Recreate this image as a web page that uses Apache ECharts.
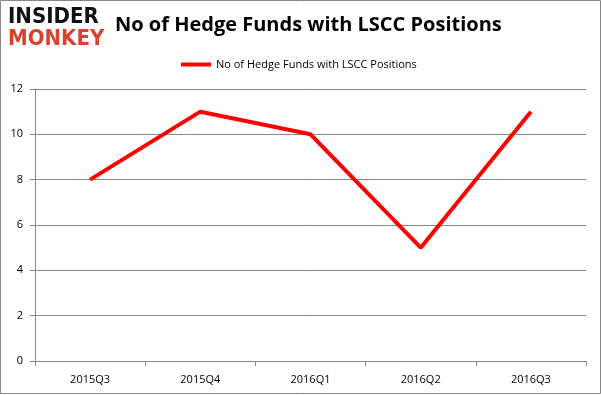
<!DOCTYPE html>
<html><head><meta charset="utf-8">
<script src="https://cdn.jsdelivr.net/npm/echarts@6/dist/echarts.min.js"></script>
<style>html,body{margin:0;padding:0;background:#fff}#c{width:601px;height:395px}</style>
</head><body><div id="c"></div>
<script>
const categories = ['2015Q3','2015Q4','2016Q1','2016Q2','2016Q3'];
const seriesName = 'No of Hedge Funds with LSCC Positions';
const values = [8, 11, 10, 5, 11];
const yTicks = [0, 2, 4, 6, 8, 10, 12];

const chart = echarts.init(document.getElementById('c'), null, {renderer:'canvas'});
const font = '"Open Sans", "Liberation Sans", sans-serif';
chart.setOption({
  animation:false,
  title:{text:'No of Hedge Funds with LSCC Positions', left:110, top:10,
    textStyle:{fontFamily:font, fontWeight:'bold', fontSize:20, color:'#000'}},
  legend:{data:[seriesName], top:54, left:176, itemWidth:30, itemHeight:4, itemGap:4,
    icon:'rect', textStyle:{fontFamily:font, fontSize:11, color:'#000'}},
  grid:{left:35, right:15, top:89, bottom:34, containLabel:false},
  xAxis:{type:'category', data:categories, boundaryGap:true,
    axisLine:{lineStyle:{color:'#868686', width:1}},
    axisTick:{show:true, length:5, lineStyle:{color:'#868686'}},
    axisLabel:{fontFamily:font, fontSize:11, color:'#000', margin:13}},
  yAxis:{type:'value', min:yTicks[0], max:yTicks[yTicks.length-1], interval:2,
    axisLine:{show:true, lineStyle:{color:'#868686'}},
    axisTick:{show:true, length:5, lineStyle:{color:'#868686'}},
    splitLine:{lineStyle:{color:'#868686', width:1}},
    axisLabel:{fontFamily:font, fontSize:11, color:'#000', margin:12}},
  series:[{name:seriesName, type:'line', data:values, symbol:'none',
    lineStyle:{color:'#ff0000', width:4}, itemStyle:{color:'#ff0000'}}],
  graphic:[
    {type:'rect', shape:{x:0.5,y:0.5,width:600,height:393}, style:{fill:null, stroke:'#868686', lineWidth:1}, silent:true},
    {type:'text', left:8, top:6, style:{text:'INSIDER', fontFamily:'"DejaVu Sans Condensed", "DejaVu Sans"', fontWeight:'bold', fontSize:22, fill:'#111'}},
    {type:'text', left:8, top:28, style:{text:'MONKEY', fontFamily:'"DejaVu Sans Condensed", "DejaVu Sans"', fontWeight:'bold', fontSize:22, fill:'#d9432f'}}
  ]
});
</script></body></html>
